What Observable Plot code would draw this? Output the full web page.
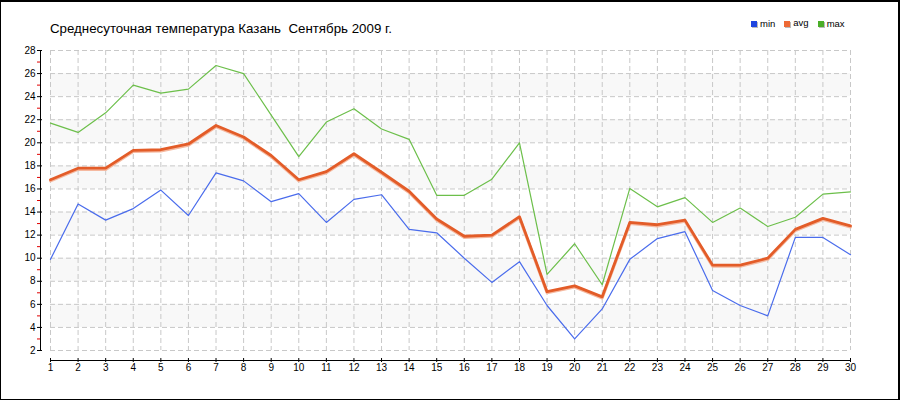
<!DOCTYPE html>
<html>
<head>
<meta charset="utf-8">
<script src="https://cdn.jsdelivr.net/npm/d3@7"></script>
<script src="https://cdn.jsdelivr.net/npm/@observablehq/plot@0.6"></script>
<style>
  html, body { margin: 0; padding: 0; background: #fff; }
  #wrap { position: relative; width: 900px; height: 400px; overflow: hidden; }
  #wrap svg { position: absolute; left: 0; top: 0; }
  #border { position: absolute; left: 0; top: 0; width: 900px; height: 400px; box-sizing: border-box; border: 2px solid #000; border-width: 2px 2px 1px 1px; pointer-events: none; }
  #title { position: absolute; left: 50px; top: 21px; font-family: "Liberation Sans", Arial, sans-serif; font-size: 13.3px; color: #000; white-space: pre; }
  #legend { position: absolute; left: 751px; top: 18px; font-family: "Liberation Sans", Arial, sans-serif; font-size: 9.5px; color: #000; display: flex; align-items: center; white-space: nowrap; }
  #legend .sw { display: inline-block; width: 6px; height: 6px; margin-right: 3px; box-shadow: 1px 1px 0 #bbb; }
  #legend .it { display: inline-flex; align-items: center; margin-right: 9px; }
</style>
</head>
<body>
<div id="wrap">
  <div id="title"></div>
  <div id="legend"></div>
  <div id="border"></div>
</div>
<script>
const titleText = "Среднесуточная температура Казань  Сентябрь 2009 г.";
const days = d3.range(1, 31);
const minTemp = [9.9, 14.7, 13.3, 14.3, 15.9, 13.7, 17.4, 16.7, 14.9, 15.6, 13.1, 15.1, 15.5, 12.5, 12.2, 10.0, 7.9, 9.7, 5.9, 3.0, 5.6, 9.9, 11.7, 12.3, 7.2, 5.9, 5.0, 11.8, 11.8, 10.3];
const avgTemp = [16.8, 17.8, 17.8, 19.35, 19.4, 19.9, 21.5, 20.5, 18.9, 16.8, 17.5, 19.05, 17.45, 15.8, 13.4, 11.9, 12.0, 13.6, 7.1, 7.6, 6.65, 13.1, 12.9, 13.3, 9.4, 9.4, 10.0, 12.5, 13.45, 12.8];
const maxTemp = [21.7, 20.9, 22.6, 25.0, 24.3, 24.65, 26.7, 26.0, 22.4, 18.8, 21.8, 22.95, 21.2, 20.3, 15.45, 15.45, 16.85, 20.0, 8.6, 11.25, 7.7, 16.05, 14.45, 15.25, 13.1, 14.35, 12.75, 13.55, 15.55, 15.75];
const seriesNames = ["min", "avg", "max"];
const lineColors = ["#4a6cec", "#e35c28", "#6cbf4a"];
const legendColors = ["#1f45e0", "#ee6a35", "#4aae28"];
const yMajorTicks = d3.range(2, 29, 2);
const yMinorTicks = d3.range(3, 28, 2);
const bandStarts = [4, 8, 12, 16, 20, 24];

document.getElementById("title").textContent = titleText;
const leg = document.getElementById("legend");
seriesNames.forEach((n, i) => {
  const it = document.createElement("span");
  it.className = "it";
  const sw = document.createElement("span");
  sw.className = "sw";
  sw.style.background = legendColors[i];
  const t = document.createElement("span");
  t.textContent = n;
  if (n === "avg") t.style.marginTop = "-3px";
  it.appendChild(sw); it.appendChild(t);
  leg.appendChild(it);
});

const rows = days.map((d, i) => ({day: d, min: minTemp[i], avg: avgTemp[i], max: maxTemp[i]}));

const chart = Plot.plot({
  width: 900,
  height: 400,
  marginLeft: 50,
  marginRight: 50,
  marginTop: 50,
  marginBottom: 50,
  style: {fontFamily: "'Liberation Sans', Arial, sans-serif", fontSize: "10px", background: "transparent", color: "#000"},
  x: {domain: [1, 30], axis: null},
  y: {domain: [2, 28], axis: null},
  marks: [
    Plot.rect(bandStarts, {y1: d => d, y2: d => d + 2, fill: "#f8f8f8"}),
    Plot.gridY({ticks: yMajorTicks, stroke: "#c8c8c8", strokeOpacity: 1, strokeDasharray: "5,3"}),
    Plot.gridX({ticks: days, stroke: "#c8c8c8", strokeOpacity: 1, strokeDasharray: "5,3"}),
    Plot.ruleX([1], {dx: -10, stroke: "#000"}),
    Plot.ruleY([2], {dy: 10, stroke: "#000"}),
    Plot.axisY({ticks: yMinorTicks, tickFormat: () => "", tickSize: 3, dx: -10, stroke: "#e00000", label: null}),
    Plot.axisY({ticks: yMajorTicks, tickSize: 5, dx: -8, tickPadding: 2, stroke: "#000", fill: "#000", label: null}),
    Plot.axisX({ticks: days, tickSize: 4, dy: 8, tickPadding: 1, stroke: "#000", fill: "#000", label: null}),
    Plot.line(rows, {x: "day", y: "min", stroke: lineColors[0], strokeWidth: 1.2}),
    Plot.line(rows, {x: "day", y: "max", stroke: lineColors[2], strokeWidth: 1.2}),
    Plot.line(rows, {x: "day", y: "avg", stroke: "#f5b9a0", strokeWidth: 3, dy: 1.2}),
    Plot.line(rows, {x: "day", y: "avg", stroke: lineColors[1], strokeWidth: 2.8})
  ]
});
document.getElementById("wrap").insertBefore(chart, document.getElementById("title"));
</script>
</body>
</html>
